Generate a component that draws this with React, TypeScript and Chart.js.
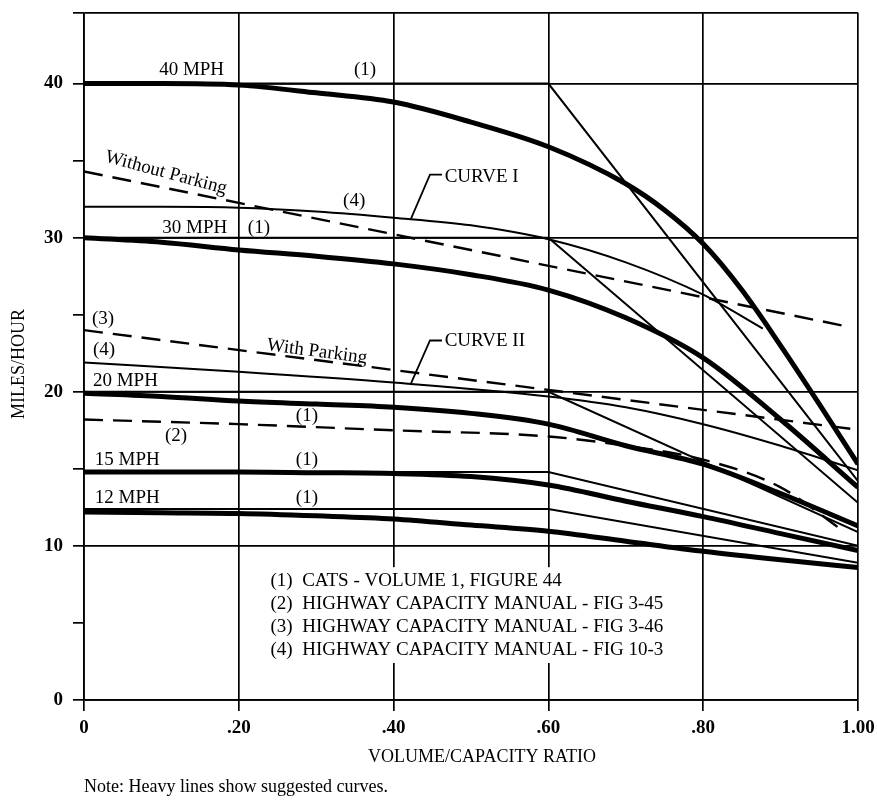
import React, { useEffect, useRef } from "react";
import { Chart, registerables } from "chart.js";

Chart.register(...registerables);

const FONT = '"Liberation Serif", "DejaVu Serif", serif';

// ---- axes ----
const xTickValues = [0, 0.2, 0.4, 0.6, 0.8, 1.0];
const xTickLabels = ["0", ".20", ".40", ".60", ".80", "1.00"];
const yTickValues = [0, 5, 10, 15, 20, 25, 30, 35, 40];
const yLabelledTicks = [0, 10, 20, 30, 40];
const yTop = 44.6;

// ---- heavy (suggested) curves ----
const heavy40X = [0, 0.1, 0.2, 0.3, 0.4, 0.5, 0.6, 0.7, 0.75, 0.8, 0.85, 0.9, 0.95, 1.0];
const heavy40 = [40, 40, 39.9, 39.4, 38.8, 37.5, 35.9, 33.5, 31.8, 29.6, 26.6, 23.0, 19.2, 15.3];
const heavyX = [0, 0.1, 0.2, 0.3, 0.4, 0.5, 0.6, 0.7, 0.8, 0.9, 1.0];
const heavy30 = [30, 29.7, 29.2, 28.8, 28.3, 27.6, 26.6, 24.8, 22.2, 18.2, 13.8];
const heavy20 = [19.9, 19.7, 19.4, 19.2, 19.0, 18.6, 17.9, 16.5, 15.3, 13.4, 11.3];
const heavy15 = [14.8, 14.8, 14.8, 14.75, 14.7, 14.5, 13.95, 12.9, 11.9, 10.8, 9.7];
const heavy12 = [12.2, 12.15, 12.1, 11.95, 11.75, 11.35, 10.95, 10.3, 9.65, 9.1, 8.6];

// ---- CATS (1) straight lines ----
const catsX = [0, 0.6, 1.0];
const cats40 = [40, 40, 14.2];
const cats30 = [30, 30, 12.8];
const cats20 = [20, 20, 10.9];
const cats15 = [14.8, 14.8, 10.0];
const cats12 = [12.4, 12.4, 8.9];

// ---- HCM Fig 10-3 (4): Curve I and Curve II ----
const curve1X = [0, 0.1, 0.2, 0.3, 0.4, 0.5, 0.6, 0.7, 0.8, 0.877];
const curve1 = [32, 32, 31.95, 31.7, 31.3, 30.8, 29.9, 28.4, 26.3, 24.1];
const curve2X = [0, 0.2, 0.4, 0.6, 0.7, 0.8, 0.9, 1.0];
const curve2 = [21.9, 21.3, 20.6, 19.7, 19.0, 17.9, 16.5, 14.9];

// ---- HCM dashed lines ----
const withoutParkingX = [0, 0.98];
const withoutParking = [34.3, 24.3];
const withParkingX = [0, 0.99];
const withParking = [24.0, 17.6];
const hcm345X = [0, 0.2, 0.4, 0.6, 0.7, 0.8, 0.9, 0.98];
const hcm345 = [18.2, 17.9, 17.5, 17.1, 16.5, 15.6, 13.8, 11.0];

// ---- legend ----
const legendLines = [
  "(1)  CATS - VOLUME 1, FIGURE 44",
  "(2)  HIGHWAY CAPACITY MANUAL - FIG 3-45",
  "(3)  HIGHWAY CAPACITY MANUAL - FIG 3-46",
  "(4)  HIGHWAY CAPACITY MANUAL - FIG 10-3",
];
const legendRowsY = [7.71, 6.22, 4.73, 3.24];
const legendLeftX = 0.241;
const legendBoxX = [0.234, 0.77];
const legendBoxY = [8.62, 2.4];

// ---- in-plot labels (data coordinates) ----
type Label = { text: string; x: number; y: number; align: CanvasTextAlign; angle?: number };
const labels: Label[] = [
  { text: "40 MPH", x: 0.181, y: 40.9, align: "right" },
  { text: "(1)", x: 0.363, y: 40.9, align: "center" },
  { text: "Without Parking", x: 0.106, y: 34.2, align: "center", angle: 15 },
  { text: "(4)", x: 0.349, y: 32.4, align: "center" },
  { text: "30 MPH", x: 0.185, y: 30.65, align: "right" },
  { text: "(1)", x: 0.226, y: 30.65, align: "center" },
  { text: "CURVE I", x: 0.466, y: 33.96, align: "left" },
  { text: "(3)", x: 0.0245, y: 24.7, align: "center" },
  { text: "(4)", x: 0.026, y: 22.7, align: "center" },
  { text: "With Parking", x: 0.301, y: 22.6, align: "center", angle: 7.5 },
  { text: "CURVE II", x: 0.466, y: 23.27, align: "left" },
  { text: "20 MPH", x: 0.0116, y: 20.67, align: "left" },
  { text: "(1)", x: 0.288, y: 18.4, align: "center" },
  { text: "(2)", x: 0.119, y: 17.1, align: "center" },
  { text: "15 MPH", x: 0.014, y: 15.55, align: "left" },
  { text: "(1)", x: 0.288, y: 15.55, align: "center" },
  { text: "12 MPH", x: 0.014, y: 13.1, align: "left" },
  { text: "(1)", x: 0.288, y: 13.1, align: "center" },
];

// leader lines from curve labels
const leaderCurve1X = [0.4625, 0.447, 0.4225];
const leaderCurve1Y = [34.09, 34.09, 31.24];
const leaderCurve2X = [0.4625, 0.447, 0.4225];
const leaderCurve2Y = [23.33, 23.33, 20.54];

const yTitle = "MILES/HOUR";
const xTitle = "VOLUME/CAPACITY RATIO";
const note = "Note: Heavy lines show suggested curves.";

const pts = (xs: number[], ys: number[]) => xs.map((x, i) => ({ x, y: ys[i] }));

const heavy = (xs: number[], ys: number[]) => ({
  data: pts(xs, ys),
  borderColor: "#000",
  borderWidth: 5,
  pointRadius: 0,
  cubicInterpolationMode: "monotone" as const,
});
const thin = (xs: number[], ys: number[], smooth = false) => ({
  data: pts(xs, ys),
  borderColor: "#000",
  borderWidth: 2,
  pointRadius: 0,
  tension: 0,
  cubicInterpolationMode: smooth ? ("monotone" as const) : ("default" as const),
});
const dashed = (xs: number[], ys: number[], smooth = false) => ({
  ...thin(xs, ys, smooth),
  borderWidth: 2.4,
  borderDash: [19, 10],
});

const decorPlugin = {
  id: "decor",
  beforeDatasetsDraw(chart: any) {
    const { ctx } = chart;
    const xs = chart.scales.x;
    const ys = chart.scales.y;
    ctx.save();
    ctx.fillStyle = "#fff";
    const x0 = xs.getPixelForValue(legendBoxX[0]);
    const x1 = xs.getPixelForValue(legendBoxX[1]);
    const y0 = ys.getPixelForValue(legendBoxY[0]);
    const y1 = ys.getPixelForValue(legendBoxY[1]);
    ctx.fillRect(x0, y0, x1 - x0, y1 - y0);
    ctx.restore();
  },
  afterDatasetsDraw(chart: any) {
    const { ctx } = chart;
    const xs = chart.scales.x;
    const ys = chart.scales.y;
    ctx.save();
    ctx.fillStyle = "#000";
    ctx.strokeStyle = "#000";
    // leader lines
    ctx.lineWidth = 1.8;
    for (const [lx, ly] of [
      [leaderCurve1X, leaderCurve1Y],
      [leaderCurve2X, leaderCurve2Y],
    ]) {
      ctx.beginPath();
      lx.forEach((v: number, i: number) => {
        const px = xs.getPixelForValue(v);
        const py = ys.getPixelForValue(ly[i]);
        if (i === 0) ctx.moveTo(px, py);
        else ctx.lineTo(px, py);
      });
      ctx.stroke();
    }
    // labels
    ctx.font = `19px ${FONT}`;
    ctx.textBaseline = "middle";
    for (const l of labels) {
      const px = xs.getPixelForValue(l.x);
      const py = ys.getPixelForValue(l.y);
      ctx.save();
      ctx.translate(px, py);
      if (l.angle) ctx.rotate((l.angle * Math.PI) / 180);
      ctx.textAlign = l.align;
      ctx.fillText(l.text, 0, 0);
      ctx.restore();
    }
    // legend text
    ctx.textAlign = "left";
    legendLines.forEach((t, i) => {
      ctx.fillText(t, xs.getPixelForValue(legendLeftX), ys.getPixelForValue(legendRowsY[i]));
    });
    ctx.restore();
  },
  afterDraw(chart: any) {
    const { ctx, chartArea } = chart;
    ctx.save();
    ctx.fillStyle = "#000";
    ctx.font = `18px ${FONT}`;
    ctx.textBaseline = "middle";
    // y title
    ctx.save();
    ctx.translate(19, 364);
    ctx.rotate(-Math.PI / 2);
    ctx.textAlign = "center";
    ctx.fillText(yTitle, 0, 0);
    ctx.restore();
    // x title
    ctx.textAlign = "center";
    ctx.fillText(xTitle, 482, chartArea.bottom + 57);
    ctx.textAlign = "left";
    ctx.fillText(note, chartArea.left, chartArea.bottom + 87);
    ctx.restore();
  },
};

export default function App() {
  const ref = useRef<HTMLCanvasElement>(null);
  useEffect(() => {
    if (!ref.current) return;
    const chart = new Chart(ref.current, {
      type: "line",
      data: {
        datasets: [
          thin(catsX, cats40),
          thin(catsX, cats30),
          thin(catsX, cats20),
          thin(catsX, cats15),
          thin(catsX, cats12),
          thin(curve1X, curve1, true),
          thin(curve2X, curve2, true),
          dashed(withoutParkingX, withoutParking),
          dashed(withParkingX, withParking),
          dashed(hcm345X, hcm345, true),
          heavy(heavy40X, heavy40),
          heavy(heavyX, heavy30),
          heavy(heavyX, heavy20),
          heavy(heavyX, heavy15),
          heavy(heavyX, heavy12),
        ] as any,
      },
      options: {
        responsive: false,
        animation: false,
        layout: { padding: { top: 12.7, right: 19, left: 0, bottom: 0 } },
        plugins: { legend: { display: false }, tooltip: { enabled: false } },
        scales: {
          x: {
            type: "linear",
            min: 0,
            max: 1,
            afterBuildTicks: (s: any) => {
              s.ticks = xTickValues.map((value) => ({ value }));
            },
            afterFit: (s: any) => {
              s.height = 100;
              s.paddingLeft = 0;
              s.paddingRight = 0;
            },
            ticks: {
              autoSkip: false,
              maxRotation: 0,
              padding: 6,
              color: "#000",
              font: { family: FONT, size: 19, weight: "bold" },
              callback: (v: any) => {
                const i = xTickValues.indexOf(Number(v));
                return i >= 0 ? xTickLabels[i] : "";
              },
            },
            grid: { color: "#000", lineWidth: 1.7, tickLength: 11, tickColor: "#000", tickWidth: 1.7 },
            border: { display: true, color: "#000", width: 1.7 },
          },
          y: {
            type: "linear",
            min: 0,
            max: yTop,
            afterBuildTicks: (s: any) => {
              s.ticks = [...yTickValues, yTop].map((value) => ({ value }));
            },
            afterFit: (s: any) => {
              s.width = 84;
              s.paddingTop = 0;
              s.paddingBottom = 0;
            },
            ticks: {
              autoSkip: false,
              padding: 10,
              color: "#000",
              font: { family: FONT, size: 19, weight: "bold" },
              callback: (v: any) => (yLabelledTicks.includes(Number(v)) ? String(v) : ""),
            },
            grid: {
              color: (c: any) =>
                yLabelledTicks.includes(c.tick?.value) || c.tick?.value === yTop ? "#000" : "rgba(0,0,0,0)",
              lineWidth: 1.7,
              tickLength: 11,
              tickColor: "#000",
              tickWidth: 1.7,
            },
            border: { display: true, color: "#000", width: 1.7 },
          },
        },
      },
      plugins: [decorPlugin],
    });
    return () => chart.destroy();
  }, []);
  return (
    <div style={{ position: "absolute", left: 0, top: 0, width: 877, height: 800, background: "#fff" }}>
      <canvas ref={ref} width={877} height={800} style={{ display: "block" }} />
    </div>
  );
}
